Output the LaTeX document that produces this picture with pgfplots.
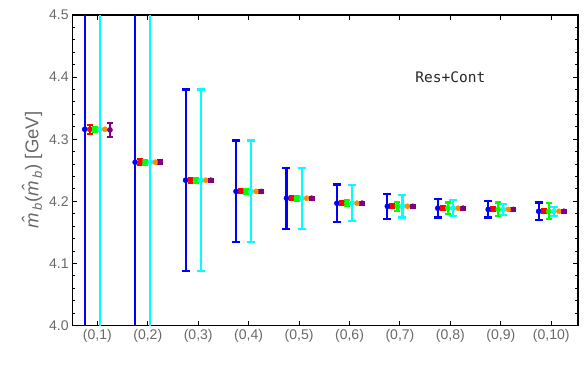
\documentclass[border=0pt]{standalone}
\usepackage{fontspec}
\setmainfont{Liberation Sans}
\setmonofont{DejaVu Sans Mono}
\usepackage{pgfplots}
\pgfplotsset{compat=1.18}
\usepackage{pgfplotstable}

\definecolor{labgray}{RGB}{105,105,105}
\definecolor{cblue}{RGB}{0,0,255}
\definecolor{ccyan}{RGB}{0,255,255}
\definecolor{cred}{RGB}{255,0,0}
\definecolor{cgreen}{RGB}{0,255,0}
\definecolor{corange}{RGB}{255,140,0}
\definecolor{cpurple}{RGB}{128,0,128}

% n = category (0,n), y = central value, e = symmetric error
\pgfplotstableread{
n y e
1 4.316 0.5
2 4.263 0.5
3 4.234 0.146
4 4.216 0.082
5 4.205 0.049
6 4.197 0.030
7 4.192 0.020
8 4.189 0.015
9 4.187 0.013
10 4.184 0.014
}\blueT
\pgfplotstableread{
n y e
1 4.316 0.007
2 4.263 0.005
3 4.234 0.004
4 4.216 0.003
5 4.205 0.003
6 4.197 0.003
7 4.192 0.003
8 4.189 0.003
9 4.187 0.003
10 4.184 0.003
}\redT
\pgfplotstableread{
n y e
1 4.316 0.004
2 4.263 0.004
3 4.234 0.004
4 4.216 0.004
5 4.205 0.004
6 4.197 0.005
7 4.192 0.007
8 4.189 0.009
9 4.187 0.011
10 4.184 0.013
}\greenT
\pgfplotstableread{
n y e
1 4.316 0.5
2 4.263 0.5
3 4.234 0.146
4 4.216 0.082
5 4.205 0.049
6 4.197 0.029
7 4.192 0.018
8 4.189 0.013
9 4.187 0.009
10 4.184 0.007
}\cyanT
\pgfplotstableread{
n y
1 4.316
2 4.263
3 4.234
4 4.216
5 4.205
6 4.197
7 4.192
8 4.189
9 4.187
10 4.184
}\orangeT
\pgfplotstableread{
n y e
1 4.315 0.011
2 4.263 0.003
3 4.234 0.002
4 4.216 0.002
5 4.205 0.002
6 4.197 0.002
7 4.192 0.002
8 4.189 0.002
9 4.187 0.002
10 4.184 0.002
}\purpleT

\pgfplotsset{
  eb/.style 2 args={only marks, mark=*, mark size=2.6pt, color=#1,
    error bars/.cd, y dir=both, y explicit,
    error bar style={line width=2.2pt, color=#1},
    error mark options={rotate=90, line width=2.2pt, mark size=#2, color=#1}},
}

\begin{document}
\begin{tikzpicture}
\begin{axis}[
  scale only axis,
  width=505pt, height=310pt,
  xmin=0.5, xmax=10.53,
  ymin=4.0, ymax=4.5,
  xtick={1,...,10},
  xticklabels={(0,1),(0,2),(0,3),(0,4),(0,5),(0,6),(0,7),(0,8),(0,9),(0,10)},
  ytick={4.0,4.1,...,4.5},
  minor y tick num=4,
  yticklabel style={/pgf/number format/fixed, /pgf/number format/fixed zerofill,
    /pgf/number format/precision=1},
  /pgf/number format/assume math mode=true,
  tick label style={font=\fontsize{14}{16}\selectfont, text=labgray},
  ylabel={\textit{\^{m}}\textsubscript{\textit{b}}(\textit{\^{m}}\textsubscript{\textit{b}}) [GeV]},
  ylabel style={font=\fontsize{18.5}{20}\selectfont, text=labgray},
  axis line style={line width=1.1pt},
  tick style={black, line width=1pt},
  major tick length=5pt, minor tick length=3pt,
]
\addplot[eb={cblue}{4pt}] table[x expr=\thisrow{n}-0.25, y=y, y error=e] {\blueT};
\addplot[eb={cred}{3pt}] table[x expr=\thisrow{n}-0.15, y=y, y error=e] {\redT};
\addplot[eb={cgreen}{3pt}] table[x expr=\thisrow{n}-0.05, y=y, y error=e] {\greenT};
\addplot[eb={ccyan}{4pt}] table[x expr=\thisrow{n}+0.05, y=y, y error=e] {\cyanT};
\addplot[only marks, mark=*, mark size=2.6pt, color=corange] table[x expr=\thisrow{n}+0.15, y=y] {\orangeT};
\addplot[eb={cpurple}{3pt}] table[x expr=\thisrow{n}+0.25, y=y, y error=e] {\purpleT};
\node[font=\ttfamily\fontsize{14.5}{16}\selectfont, text=black!85] at (axis cs:8,4.40) {Res+Cont};
\end{axis}
\pgfresetboundingbox
\path (current axis.south west) ++(-72pt,-44pt) coordinate (bbA);
\path (current axis.north east) ++(6pt,15pt) coordinate (bbB);
\useasboundingbox (bbA) rectangle (bbB);
\end{tikzpicture}
\end{document}
